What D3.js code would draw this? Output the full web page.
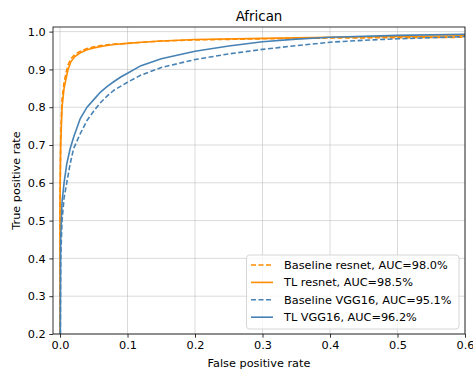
<!DOCTYPE html>
<html><head><meta charset="utf-8">
<script src="https://cdn.jsdelivr.net/npm/d3@7"></script>
<style>body{margin:0;background:#fff}svg{display:block;font-family:"DejaVu Sans",sans-serif}</style>
</head><body><svg id="c" width="473" height="373"></svg>
<script>
const title = "African";
const xLabel = "False positive rate";
const yLabel = "True positive rate";
const xTicks = [0.0, 0.1, 0.2, 0.3, 0.4, 0.5, 0.6];
const yTicks = [0.2, 0.3, 0.4, 0.5, 0.6, 0.7, 0.8, 0.9, 1.0];

const baselineResnetFPR = [0, 0, 0.001, 0.003, 0.006, 0.009, 0.012, 0.016, 0.022, 0.030, 0.040, 0.050, 0.065, 0.080, 0.100, 0.150, 0.200, 0.300, 0.400, 0.500, 0.600];
const baselineResnetTPR = [0, 0.55, 0.72, 0.82, 0.865, 0.892, 0.912, 0.928, 0.940, 0.948, 0.955, 0.960, 0.964, 0.967, 0.969, 0.975, 0.978, 0.981, 0.983, 0.984, 0.985];

const tlResnetFPR = [0, 0, 0.001, 0.003, 0.006, 0.009, 0.012, 0.016, 0.022, 0.030, 0.040, 0.050, 0.065, 0.080, 0.100, 0.120, 0.150, 0.200, 0.300, 0.400, 0.500, 0.600];
const tlResnetTPR = [0, 0.55, 0.70, 0.80, 0.85, 0.876, 0.900, 0.920, 0.934, 0.944, 0.952, 0.957, 0.962, 0.966, 0.969, 0.972, 0.975, 0.979, 0.982, 0.985, 0.987, 0.989];

const baselineVggFPR = [0, 0.001, 0.003, 0.006, 0.010, 0.015, 0.020, 0.030, 0.040, 0.050, 0.060, 0.070, 0.080, 0.100, 0.120, 0.150, 0.200, 0.250, 0.300, 0.350, 0.400, 0.450, 0.500, 0.550, 0.600];
const baselineVggTPR = [0, 0.40, 0.50, 0.56, 0.60, 0.65, 0.69, 0.73, 0.765, 0.79, 0.812, 0.83, 0.845, 0.866, 0.885, 0.905, 0.926, 0.941, 0.953, 0.963, 0.972, 0.977, 0.981, 0.984, 0.987];

const tlVggFPR = [0, 0.001, 0.003, 0.006, 0.010, 0.015, 0.020, 0.030, 0.040, 0.050, 0.060, 0.070, 0.080, 0.090, 0.100, 0.120, 0.150, 0.200, 0.250, 0.300, 0.350, 0.400, 0.500, 0.600];
const tlVggTPR = [0, 0.45, 0.55, 0.60, 0.65, 0.69, 0.72, 0.77, 0.80, 0.82, 0.84, 0.855, 0.868, 0.880, 0.890, 0.910, 0.928, 0.948, 0.962, 0.973, 0.980, 0.985, 0.990, 0.993];

const seriesNames = ["Baseline resnet, AUC=98.0%", "TL resnet, AUC=98.5%", "Baseline VGG16, AUC=95.1%", "TL VGG16, AUC=96.2%"];
const seriesColors = ["#ff8c00", "#ff8c00", "#4682b4", "#4682b4"];
const seriesDash = ["5,2.5", null, "5,2.5", null];

const series = [
  [baselineResnetFPR, baselineResnetTPR],
  [tlResnetFPR, tlResnetTPR],
  [baselineVggFPR, baselineVggTPR],
  [tlVggFPR, tlVggTPR]
].map(([xs, ys], i) => ({name: seriesNames[i], color: seriesColors[i], dash: seriesDash[i], pts: xs.map((x, j) => [x, ys[j]])}));

const svg = d3.select("#c");
const L = 53, R = 465, T = 27, B = 334;
const x = d3.scaleLinear().domain([-0.0104, 0.6]).range([L, R]);
const y = d3.scaleLinear().domain([0.2, 1.0122]).range([B, T]);
const fs = 11.3;

// grid
svg.append("g").selectAll("line").data(xTicks).join("line")
  .attr("x1", d => x(d)).attr("x2", d => x(d)).attr("y1", T).attr("y2", B)
  .attr("stroke", "#b0b0b0").attr("stroke-opacity", 0.6).attr("stroke-width", 0.8);
svg.append("g").selectAll("line").data(yTicks).join("line")
  .attr("y1", d => y(d)).attr("y2", d => y(d)).attr("x1", L).attr("x2", R)
  .attr("stroke", "#b0b0b0").attr("stroke-opacity", 0.6).attr("stroke-width", 0.8);

svg.append("defs").append("clipPath").attr("id", "clip").append("rect")
  .attr("x", L).attr("y", T).attr("width", R - L).attr("height", B - T);

const line = d3.line().x(d => x(d[0])).y(d => y(d[1]));
svg.append("g").attr("clip-path", "url(#clip)").selectAll("path").data(series).join("path")
  .attr("d", d => line(d.pts)).attr("fill", "none")
  .attr("stroke", d => d.color).attr("stroke-width", 1.6)
  .attr("stroke-dasharray", d => d.dash);

// axes
const xAxis = svg.append("g").attr("transform", `translate(0,${B})`)
  .call(d3.axisBottom(x).tickValues(xTicks).tickFormat(d3.format(".1f")).tickSize(3.7).tickPadding(3.5));
const yAxis = svg.append("g").attr("transform", `translate(${L},0)`)
  .call(d3.axisLeft(y).tickValues(yTicks).tickFormat(d3.format(".1f")).tickSize(3.7).tickPadding(3.5));
[xAxis, yAxis].forEach(a => {
  a.select(".domain").remove();
  a.selectAll("text").attr("font-size", fs).attr("fill", "#000").attr("font-family", "DejaVu Sans");
  a.selectAll("line").attr("stroke", "#000").attr("stroke-width", 0.8);
});
svg.append("rect").attr("x", L).attr("y", T).attr("width", R - L).attr("height", B - T)
  .attr("fill", "none").attr("stroke", "#000").attr("stroke-width", 0.8);

svg.append("text").attr("x", (L + R) / 2).attr("y", 21).attr("text-anchor", "middle")
  .attr("font-size", 13.4).text(title);
svg.append("text").attr("x", (L + R) / 2).attr("y", 367).attr("text-anchor", "middle")
  .attr("font-size", fs).text(xLabel);
svg.append("text").attr("transform", `translate(20,${(T + B) / 2}) rotate(-90)`).attr("text-anchor", "middle")
  .attr("font-size", fs).text(yLabel);

// legend
const lg = svg.append("g");
lg.append("rect").attr("x", 246.5).attr("y", 255).attr("width", 212.5).attr("height", 74).attr("rx", 3)
  .attr("fill", "#fff").attr("fill-opacity", 0.8).attr("stroke", "#cccccc").attr("stroke-width", 0.8);
const rows = lg.selectAll("g.r").data(series).join("g").attr("transform", (d, i) => `translate(0,${265 + i * 17.4})`);
rows.append("line").attr("x1", 251).attr("x2", 273).attr("y1", 0).attr("y2", 0)
  .attr("stroke", d => d.color).attr("stroke-width", 1.6).attr("stroke-dasharray", d => d.dash);
rows.append("text").attr("x", 284).attr("y", 0).attr("dy", "0.35em").attr("font-size", fs).text(d => d.name);
</script></body></html>
